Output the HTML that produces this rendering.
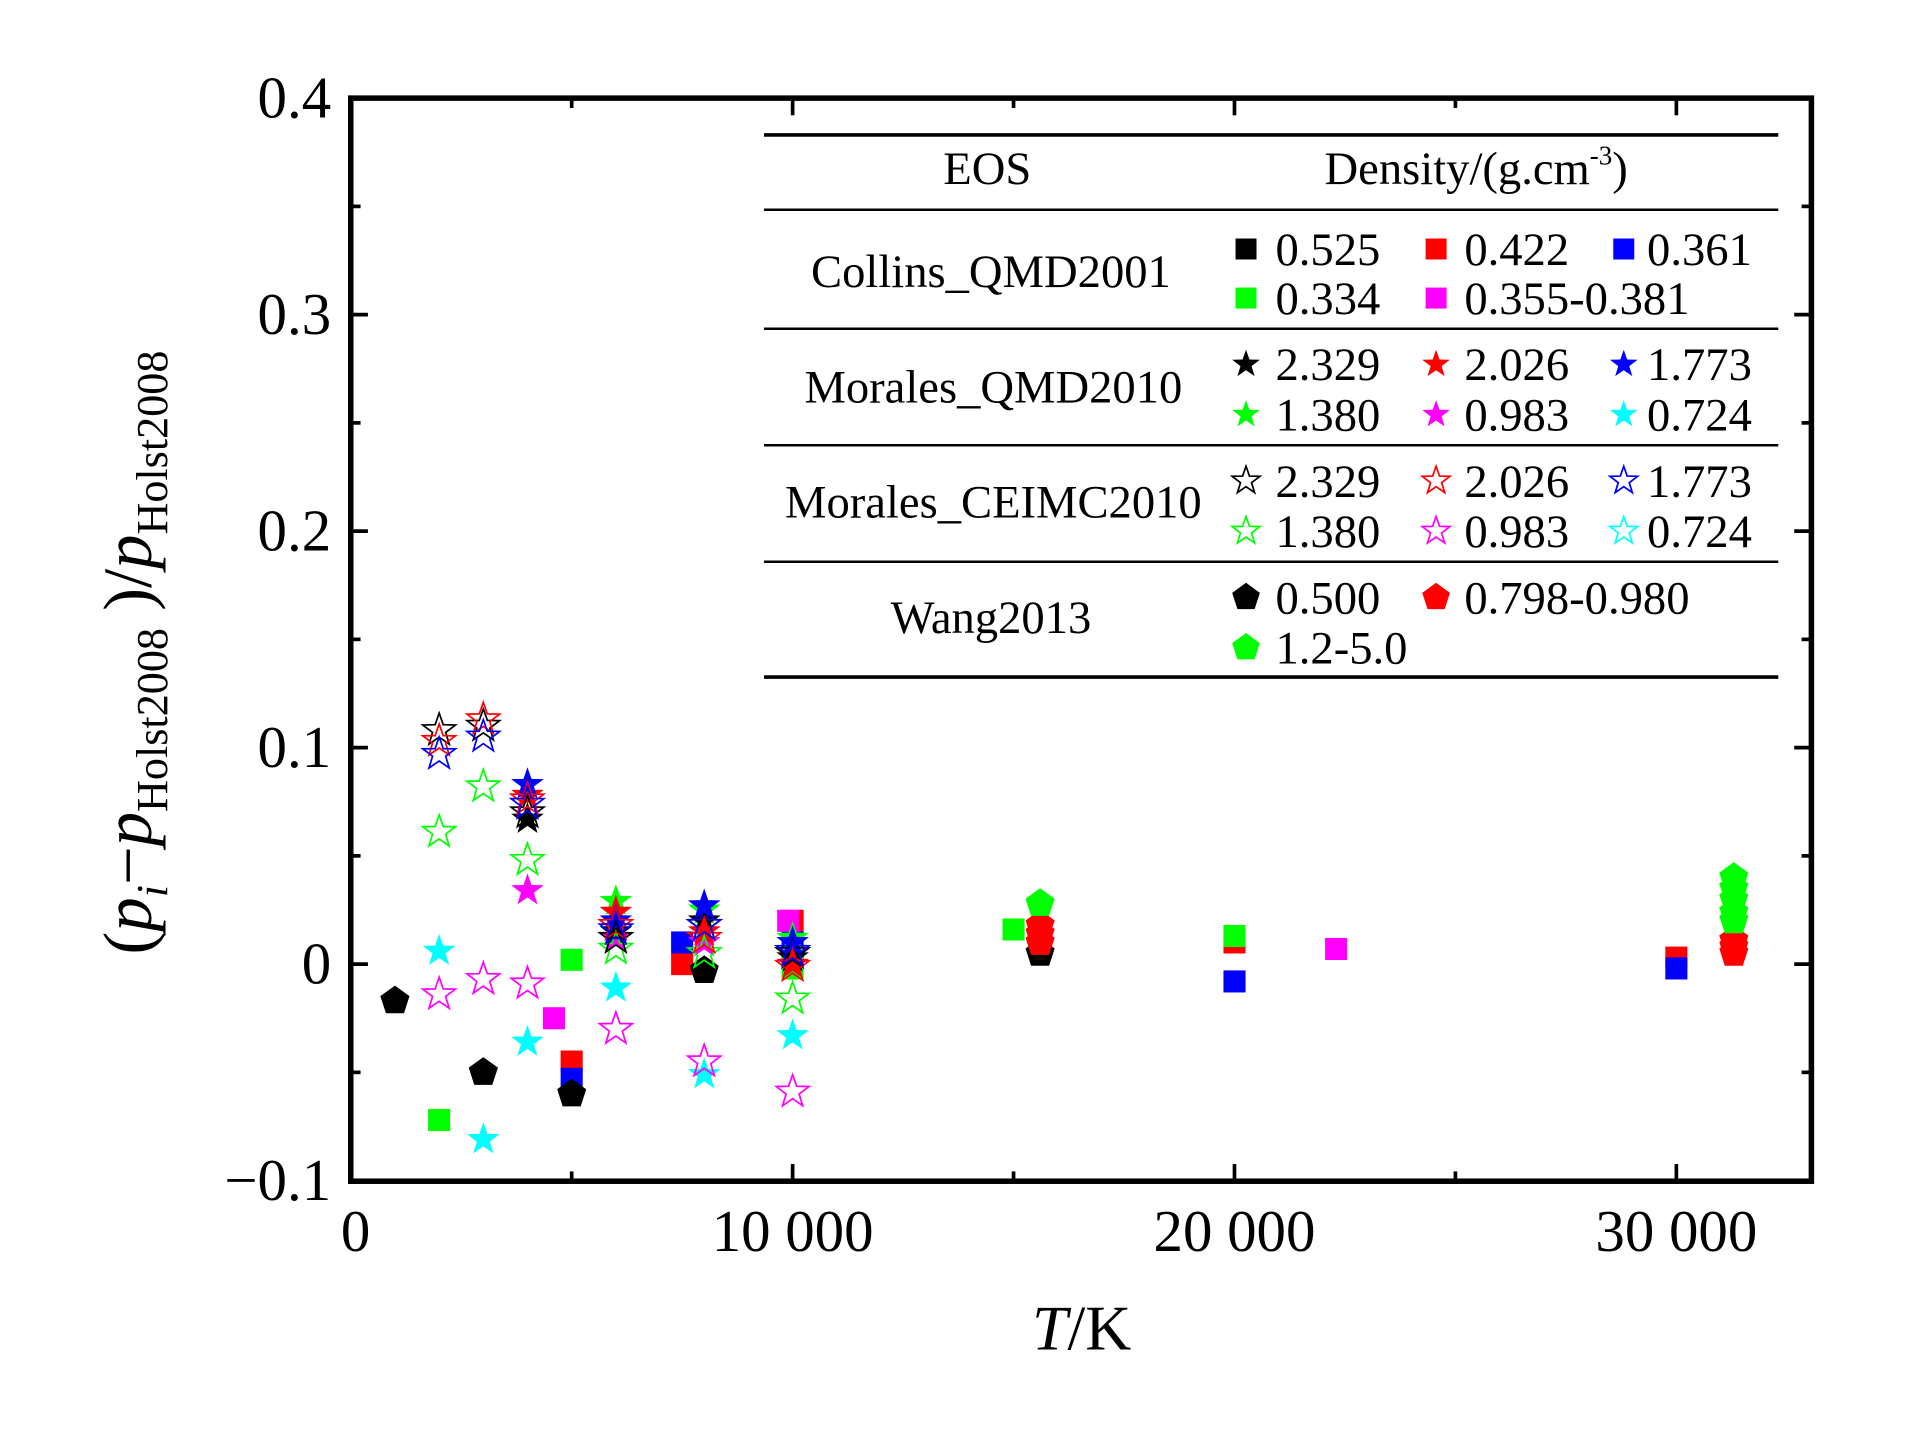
<!DOCTYPE html>
<html><head><meta charset="utf-8"><style>
html,body{margin:0;padding:0;background:#fff;}
svg{display:block;}
text{font-family:"Liberation Serif",serif;fill:#000;}
</style></head><body>
<svg id="chart" width="1923" height="1429" viewBox="0 0 1568 1165" preserveAspectRatio="none" xmlns="http://www.w3.org/2000/svg">
<rect width="1568" height="1165" fill="#fff"/>
<g id="ticks"></g>
<g id="marks"></g>
<rect x="286" y="80" width="1191" height="883" fill="none" stroke="#000" stroke-width="4.5"/>
<g id="ylabels" font-size="48" text-anchor="end"></g>
<g id="xlabels" font-size="48" text-anchor="middle"></g>
<text x="882" y="1100" font-size="52" text-anchor="middle"><tspan font-style="italic">T</tspan>/K</text>
<text transform="translate(123,532) rotate(-90)" font-size="56" text-anchor="middle">(<tspan font-style="italic">p</tspan><tspan font-style="italic" font-size="36" dy="13">i</tspan><tspan dy="-13">−</tspan><tspan font-style="italic">p</tspan><tspan font-size="36" dy="13">Holst2008</tspan><tspan dy="-13"> )/</tspan><tspan font-style="italic">p</tspan><tspan font-size="36" dy="13">Holst2008</tspan></text>
<g id="legend">
<line x1="623" y1="110" x2="1450" y2="110" stroke="#000" stroke-width="3"/>
<line x1="623" y1="171" x2="1450" y2="171" stroke="#000" stroke-width="2"/>
<line x1="623" y1="268" x2="1450" y2="268" stroke="#000" stroke-width="2"/>
<line x1="623" y1="363" x2="1450" y2="363" stroke="#000" stroke-width="2"/>
<line x1="623" y1="458" x2="1450" y2="458" stroke="#000" stroke-width="2"/>
<line x1="623" y1="552" x2="1450" y2="552" stroke="#000" stroke-width="3"/>
<text x="805" y="150" font-size="38" text-anchor="middle">EOS</text>
<text x="1080" y="150" font-size="38">Density/(g.cm<tspan font-size="22" dy="-16">-3</tspan><tspan dy="16">)</tspan></text>
<text x="808" y="234" font-size="38" text-anchor="middle">Collins_QMD2001</text>
<text x="810" y="328" font-size="38" text-anchor="middle">Morales_QMD2010</text>
<text x="810" y="422" font-size="38" text-anchor="middle">Morales_CEIMC2010</text>
<text x="808" y="516" font-size="38" text-anchor="middle">Wang2013</text>
<g id="legitems"></g>
</g>
</svg>
<script>
// axis data
const xTicks = [0, 10000, 20000, 30000];
const xTickLabels = ["0", "10 000", "20 000", "30 000"];
const xMinor = [5000, 15000, 25000];
const yTicks = [-0.1, 0, 0.1, 0.2, 0.3, 0.4];
const yTickLabels = ["−0.1", "0", "0.1", "0.2", "0.3", "0.4"];
const yMinor = [-0.05, 0.05, 0.15, 0.25, 0.35];

// Collins_QMD2001 (squares)
const colBlackT = [10000]; const colBlackV = [0.004];
const colRedT = [5000, 7500, 10000, 20000, 30000]; const colRedV = [-0.045, 0.0, 0.02, 0.01, 0.003];
const colBlueT = [5000, 7500, 10000, 20000, 30000]; const colBlueV = [-0.053, 0.01, 0.01, -0.008, -0.002];
const colGreenT = [2000, 5000, 10000, 15000, 20000]; const colGreenV = [-0.072, 0.002, -0.002, 0.016, 0.013];
const colMagT = [4600, 9900, 22300]; const colMagV = [-0.025, 0.02, 0.007];
// Morales_QMD2010 (filled stars)
const qmdBlackT = [4000, 6000, 8000, 10000]; const qmdBlackV = [0.067, 0.015, 0.02, 0.003];
const qmdRedT = [4000, 6000, 8000, 10000]; const qmdRedV = [0.078, 0.024, 0.015, 0.0];
const qmdBlueT = [4000, 6000, 8000, 10000]; const qmdBlueV = [0.083, 0.02, 0.027, 0.01];
const qmdGreenT = [6000, 8000, 10000]; const qmdGreenV = [0.029, 0.025, 0.012];
const qmdMagT = [4000, 6000, 8000, 10000]; const qmdMagV = [0.034, 0.012, 0.01, 0.005];
const qmdCyanT = [2000, 3000, 4000, 6000, 8000, 10000]; const qmdCyanV = [0.006, -0.081, -0.036, -0.011, -0.051, -0.033];
// Morales_CEIMC2010 (open stars)
const ceBlackT = [2000, 3000, 4000, 6000, 8000, 10000]; const ceBlackV = [0.108, 0.11, 0.07, 0.012, 0.018, 0.005];
const ceRedT = [2000, 3000, 4000, 6000, 8000, 10000]; const ceRedV = [0.103, 0.113, 0.076, 0.018, 0.012, -0.001];
const ceBlueT = [2000, 3000, 4000, 6000, 8000, 10000]; const ceBlueV = [0.097, 0.105, 0.074, 0.016, 0.018, 0.006];
const ceGreenT = [2000, 3000, 4000, 6000, 8000, 10000]; const ceGreenV = [0.061, 0.082, 0.048, 0.007, 0.005, -0.016];
const ceMagT = [2000, 3000, 4000, 6000, 8000, 10000]; const ceMagV = [-0.014, -0.007, -0.009, -0.03, -0.045, -0.059];
// Wang2013 (pentagons)
const wBlackT = [1000, 3000, 5000, 8000, 15600]; const wBlackV = [-0.017, -0.05, -0.06, -0.003, 0.005];
const wRedT = [15600, 15600, 15600, 31300, 31300, 31300]; const wRedV = [0.018, 0.014, 0.01, 0.005, 0.008, 0.011];
const wGreenT = [15600, 31300, 31300, 31300, 31300, 31300]; const wGreenV = [0.028, 0.04, 0.035, 0.03, 0.024, 0.02];

const NS = "http://www.w3.org/2000/svg";
const X0 = 286, XPER = 0.03603, Y0 = 786, YPER = 1765;
function sx(t){ return X0 + t*XPER; }
function sy(v){ return Y0 - v*YPER; }
function mk(tag, attrs, parent){ const e=document.createElementNS(NS,tag); for(const k in attrs) e.setAttribute(k,attrs[k]); parent.appendChild(e); return e; }

const tg = document.getElementById('ticks');
function tick(x1,y1,x2,y2){ mk('line',{x1,y1,x2,y2,stroke:'#000','stroke-width':3},tg); }
xTicks.forEach(t=>{ const x=sx(t); tick(x,963,x,949); tick(x,80,x,94); });
xMinor.forEach(t=>{ const x=sx(t); tick(x,963,x,955); tick(x,80,x,88); });
yTicks.forEach(v=>{ const y=sy(v); tick(286,y,300,y); tick(1477,y,1463,y); });
yMinor.forEach(v=>{ const y=sy(v); tick(286,y,294,y); tick(1477,y,1469,y); });
const yl = document.getElementById('ylabels');
yTicks.forEach((v,i)=>{ const e=mk('text',{x:270,y:sy(v)+16},yl); e.textContent=yTickLabels[i];
  
   });
const xl = document.getElementById('xlabels');
xTicks.forEach((t,i)=>{ const e=mk('text',{x:sx(t)+(i===0?4:0),y:1020},xl); e.textContent=xTickLabels[i];
  
   });

function starPts(cx,cy,R){ const r=R*0.4; let p=[]; for(let i=0;i<10;i++){ const a=-Math.PI/2+i*Math.PI/5; const rr=i%2?r:R; p.push((cx+rr*Math.cos(a)).toFixed(1)+','+(cy+rr*Math.sin(a)).toFixed(1)); } return p.join(' '); }
function pentPts(cx,cy,R){ let p=[]; for(let i=0;i<5;i++){ const a=-Math.PI/2+i*2*Math.PI/5; p.push((cx+R*Math.cos(a)).toFixed(1)+','+(cy+R*Math.sin(a)).toFixed(1)); } return p.join(' '); }
function marker(type,color,cx,cy,parent,scale){
  scale=scale||1; let e;
  if(type==='square'){ const s=18*scale; e=mk('rect',{x:cx-s/2,y:cy-s/2,width:s,height:s,fill:color},parent); }
  else if(type==='star'){ e=mk('polygon',{points:starPts(cx,cy,14*scale),fill:color},parent); }
  else if(type==='ostar'){ e=mk('polygon',{points:starPts(cx,cy,14*scale),fill:'none',stroke:color,'stroke-width':1.4},parent); }
  else { e=mk('polygon',{points:pentPts(cx,cy,12.5*scale),fill:color},parent); }
  return e;
}
const marks = document.getElementById('marks');
const series = [
 ['square','#000',colBlackT,colBlackV],['square','#f00',colRedT,colRedV],['square','#00f',colBlueT,colBlueV],
 ['square','#0f0',colGreenT,colGreenV],['square','#f0f',colMagT,colMagV],
 ['pent','#000',wBlackT,wBlackV],['pent','#f00',wRedT,wRedV],['pent','#0f0',wGreenT,wGreenV],
 ['star','#0ff',qmdCyanT,qmdCyanV],['star','#f0f',qmdMagT,qmdMagV],['star','#0f0',qmdGreenT,qmdGreenV],
 ['star','#000',qmdBlackT,qmdBlackV],['star','#f00',qmdRedT,qmdRedV],['star','#00f',qmdBlueT,qmdBlueV],
 ['ostar','#f0f',ceMagT,ceMagV],['ostar','#0f0',ceGreenT,ceGreenV],['ostar','#000',ceBlackT,ceBlackV],
 ['ostar','#f00',ceRedT,ceRedV],['ostar','#00f',ceBlueT,ceBlueV]
];
series.forEach(s=>{ s[2].forEach((t,i)=>{ const e=marker(s[0],s[1],sx(t),sy(s[3][i]),marks);
  
   }); });

// legend entries
const li = document.getElementById('legitems');
const legRows = [
 [203,[['square','#000','0.525'],['square','#f00','0.422'],['square','#00f','0.361']]],
 [243,[['square','#0f0','0.334'],['square','#f0f','0.355-0.381']]],
 [297,[['star','#000','2.329'],['star','#f00','2.026'],['star','#00f','1.773']]],
 [338,[['star','#0f0','1.380'],['star','#f0f','0.983'],['star','#0ff','0.724']]],
 [392,[['ostar','#000','2.329'],['ostar','#f00','2.026'],['ostar','#00f','1.773']]],
 [433,[['ostar','#0f0','1.380'],['ostar','#f0f','0.983'],['ostar','#0ff','0.724']]],
 [487,[['pent','#000','0.500'],['pent','#f00','0.798-0.980']]],
 [528,[['pent','#0f0','1.2-5.0']]]
];
const colM=[1016,1171,1324], colT=[1040,1194,1343];
legRows.forEach(r=>{ r[1].forEach((it,j)=>{
  const m=marker(it[0],it[1],colM[j],r[0],li,it[0]==='square'?0.95:(it[0]==='pent'?0.95:0.85));
  
  
  const t=mk('text',{x:colT[j],y:r[0]+13,'font-size':38},li); t.textContent=it[2];
  
  
});});
</script>
</body></html>
